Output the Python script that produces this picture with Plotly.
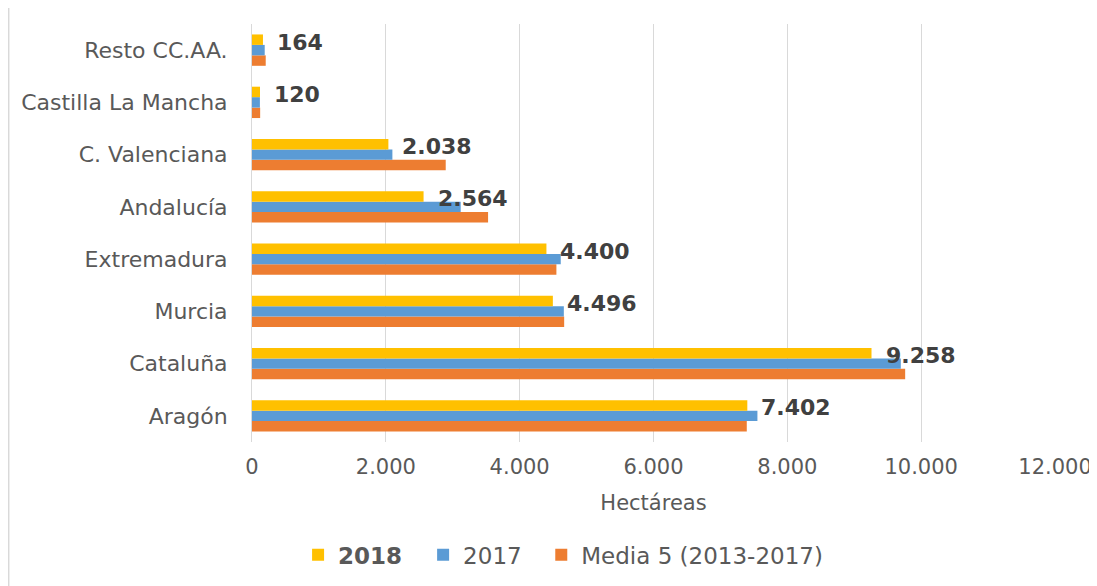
import plotly.graph_objects as go

categories = ["Aragón", "Cataluña", "Murcia", "Extremadura", "Andalucía",
              "C. Valenciana", "Castilla La Mancha", "Resto CC.AA."]
v2018 = [7402, 9258, 4496, 4400, 2564, 2038, 120, 164]
v2017 = [7553, 9696, 4660, 4614, 3119, 2098, 118, 190]
media5 = [7394, 9761, 4665, 4549, 3528, 2895, 122, 205]

x_ticks = [0, 2000, 4000, 6000, 8000, 10000, 12000]

FONT = "DejaVu Sans"
GREY = "#595959"
NB = "\u00a0\u00a0"

fig = go.Figure()
fig.add_trace(go.Bar(y=categories, x=media5, orientation="h",
                     name="Media 5 (2013-2017)", marker_color="#ED7D31",
                     marker_line_width=0))
fig.add_trace(go.Bar(y=categories, x=v2017, orientation="h",
                     name="2017" + NB, marker_color="#5B9BD5",
                     marker_line_width=0))
fig.add_trace(go.Bar(y=categories, x=v2018, orientation="h",
                     name="<b>2018" + NB + "</b>", marker_color="#FFC000",
                     marker_line_width=0))

for c, v in zip(categories, v2018):
    fig.add_annotation(x=v, y=c, xref="x", yref="y", xanchor="left",
                       yanchor="middle", xshift=12, yshift=8, showarrow=False,
                       text="<b>" + f"{v:,}".replace(",", ".") + "</b>",
                       font=dict(family=FONT, size=22, color="#404040"))

# outer chart border (left edge visible)
fig.add_shape(type="line", xref="paper", yref="paper",
              x0=-0.3033, x1=-0.3033, y0=-1, y1=2,
              line=dict(color="#D9D9D9", width=2))

fig.update_layout(
    width=1097, height=586,
    margin=dict(l=244, r=50, t=16, b=152),
    paper_bgcolor="white", plot_bgcolor="white",
    barmode="group", bargap=0.4, bargroupgap=0,
    separators=",.",
    font=dict(family=FONT, color=GREY),
    showlegend=True,
    legend=dict(orientation="h", traceorder="reversed",
                xref="container", yref="container",
                x=0.506, xanchor="center", y=0.067, yanchor="middle",
                font=dict(family=FONT, size=23, color=GREY),
                itemwidth=30),
    xaxis=dict(range=[0, 12000], tickvals=x_ticks, tickformat=",d",
               showgrid=True, gridcolor="#D9D9D9", gridwidth=1,
               zeroline=False, showline=False, automargin=False,
               ticks="outside", ticklen=6, tickcolor="rgba(0,0,0,0)",
               tickfont=dict(family=FONT, size=21, color=GREY),
               title=dict(text="Hectáreas", standoff=17,
                          font=dict(family=FONT, size=21, color=GREY)),
               fixedrange=True),
    yaxis=dict(type="category", categoryorder="array", categoryarray=categories,
               showline=True, linecolor="#D9D9D9", linewidth=1,
               showgrid=False, zeroline=False, automargin=False,
               ticks="outside", ticklen=19, tickcolor="rgba(0,0,0,0)",
               tickfont=dict(family=FONT, size=22, color=GREY),
               fixedrange=True),
)

fig.write_html("out.html")
